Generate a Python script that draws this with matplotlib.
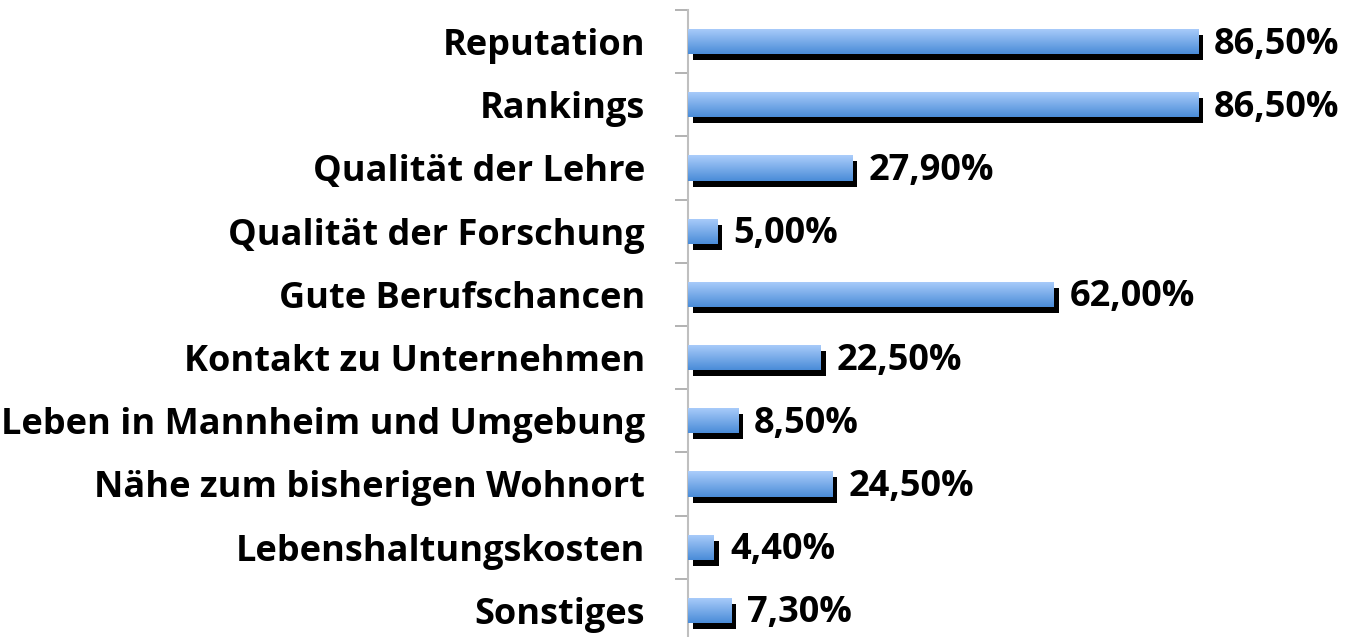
import matplotlib
matplotlib.use('Agg')
import matplotlib.pyplot as plt
import matplotlib.transforms as mtransforms
from matplotlib.colors import LinearSegmentedColormap
import numpy as np

categories = ['Reputation', 'Rankings', 'Qualität der Lehre', 'Qualität der Forschung',
              'Gute Berufschancen', 'Kontakt zu Unternehmen', 'Leben in Mannheim und Umgebung',
              'Nähe zum bisherigen Wohnort', 'Lebenshaltungskosten', 'Sonstiges']
values = [86.5, 86.5, 27.9, 5.0, 62.0, 22.5, 8.5, 24.5, 4.4, 7.3]
value_labels = ['86,50%', '86,50%', '27,90%', '5,00%', '62,00%', '22,50%',
                '8,50%', '24,50%', '4,40%', '7,30%']

plt.rcParams['font.family'] = ['Open Sans', 'DejaVu Sans']

W, H = 1348, 637
fig = plt.figure(figsize=(W / 100, H / 100), dpi=100)
ax = fig.add_axes([688 / W, 1 - 642 / H, 660 / W, 632 / H])

n = len(categories)
ypos = np.arange(n)
bar_h = 0.40
fs = 26

cmap = LinearSegmentedColormap.from_list('grad', ['#abcdfb', '#4a8cd8'])
grad = np.linspace(0, 1, 64).reshape(-1, 1)

shadow_tr = mtransforms.offset_copy(ax.transData, fig=fig, x=5, y=-6, units='dots')
label_tr = mtransforms.offset_copy(ax.transData, fig=fig, x=16, y=-3, units='dots')

for y, v, lab in zip(ypos, values, value_labels):
    ax.barh(y, v, height=bar_h, color='black', transform=shadow_tr, zorder=1)
    rect = ax.barh(y, v, height=bar_h, color='none', zorder=2)[0]
    im = ax.imshow(grad, cmap=cmap, aspect='auto', zorder=3,
                   extent=(0, v, y + bar_h / 2, y - bar_h / 2), interpolation='bilinear')
    im.set_clip_path(rect)
    ax.text(v, y, lab, transform=label_tr, ha='left', va='center',
            fontsize=fs, fontweight='bold', color='black')

ax.set_xlim(0, 660 / 5.896)
ax.set_ylim(n - 0.5, -0.5)

ax.set_yticks(ypos)
ax.set_yticklabels(categories, fontsize=fs, fontweight='bold')
ax.tick_params(axis='y', which='major', length=0, pad=31)
ax.set_yticks(np.arange(-0.5, n, 1), minor=True)
ax.tick_params(axis='y', which='minor', length=9.5, width=1.2, color='#a6a6a6')
ax.set_xticks([])
for s in ['top', 'right', 'bottom']:
    ax.spines[s].set_visible(False)
ax.spines['left'].set_color('#bfbfbf')
ax.spines['left'].set_linewidth(1.5)

fig.savefig('out.png', dpi=100)
